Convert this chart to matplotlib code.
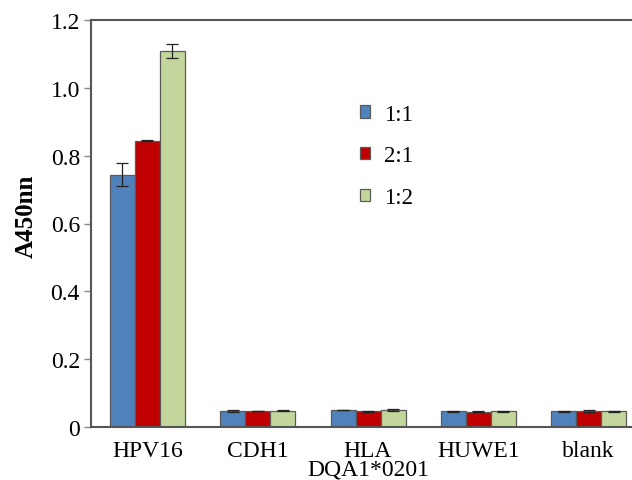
import matplotlib
matplotlib.use("Agg")
import matplotlib.pyplot as plt
import numpy as np

categories = ["HPV16", "CDH1", "HLA\nDQA1*0201", "HUWE1", "blank"]
series_names = ["1:1", "2:1", "1:2"]
vals_11 = [0.744, 0.047, 0.050, 0.046, 0.046]
vals_21 = [0.844, 0.047, 0.046, 0.045, 0.047]
vals_12 = [1.108, 0.048, 0.050, 0.046, 0.046]
err_11 = [0.033, 0.002, 0.001, 0.001, 0.001]
err_21 = [0.002, 0.001, 0.001, 0.001, 0.002]
err_12 = [0.020, 0.001, 0.002, 0.001, 0.001]
colors = ["#4f81bd", "#c00000", "#c3d69b"]
yticks = [0, 0.2, 0.4, 0.6, 0.8, 1.0, 1.2]
yticklabels = ["0", "0.2", "0.4", "0.6", "0.8", "1.0", "1.2"]

plt.rcParams['font.family'] = ['Liberation Serif', 'DejaVu Serif']

fig = plt.figure(figsize=(6.32, 4.81), dpi=100)
ax = fig.add_axes([91/632, 53/481, (636-91)/632, (428-21)/481])

x = np.arange(len(categories))
w = 0.2267
series = [vals_11, vals_21, vals_12]
errs = [err_11, err_21, err_12]
for i, (v, e, c, n) in enumerate(zip(series, errs, colors, series_names)):
    ax.bar(x + (i - 1) * w, v, width=w, color=c, edgecolor="#5a5a5a",
           linewidth=0.9, label=n, zorder=2,
           yerr=e, error_kw=dict(ecolor="#222222", elinewidth=0.9, capsize=4, capthick=0.9))

ax.set_xlim(-0.512, 4.43)
ax.set_ylim(0, 1.2)
ax.set_yticks(yticks)
ax.set_yticklabels(yticklabels, fontsize=17)
ax.set_xticks(x)
ax.set_xticklabels(categories, fontsize=17, linespacing=0.85)
ax.tick_params(axis='x', length=0, pad=9.5)
ax.tick_params(axis='y', length=5, width=1, color="#888888", pad=3, direction='out')
for s in ax.spines.values():
    s.set_color("#555555")
    s.set_linewidth(1.5)

ax.set_ylabel("A450nn", fontsize=18, fontweight='bold')
ax.yaxis.set_label_coords(-0.097, 0.52)

leg = ax.legend(loc='upper left', bbox_to_anchor=(0.455, 0.845), frameon=False,
                fontsize=16.5, handlelength=0.45, handleheight=0.45,
                labelspacing=0.9, handletextpad=0.6)

fig.savefig("out.png", dpi=100)
